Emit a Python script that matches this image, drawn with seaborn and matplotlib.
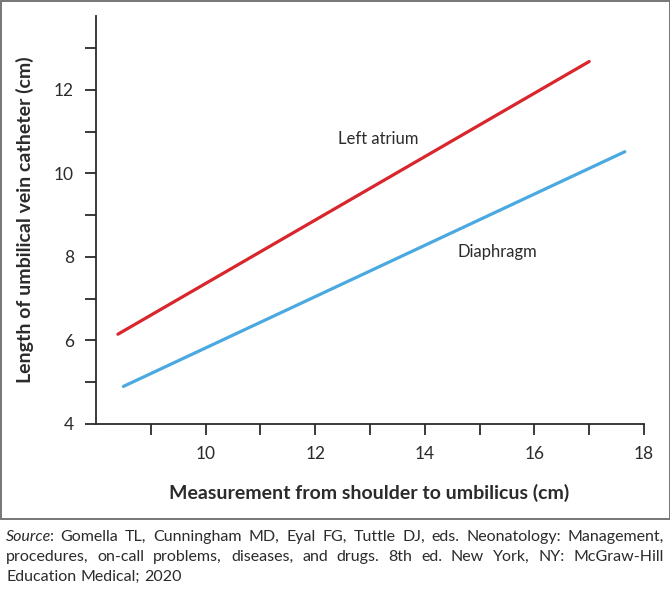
import matplotlib
matplotlib.use("Agg")
import matplotlib.pyplot as plt
from matplotlib.patches import Rectangle
import seaborn as sns
import pandas as pd

# ── data
shoulder_atrium = [8.4, 17.0]
length_atrium = [6.15, 12.68]
shoulder_diaph = [8.5, 17.65]
length_diaph = [4.9, 10.52]
series_names = ["Left atrium", "Diaphragm"]
series_colors = ["#d9262c", "#4aa9e0"]
x_ticks = list(range(9, 19))
x_labels = ["10", "12", "14", "16", "18"]
y_ticks = list(range(4, 14))
y_labels = ["4", "6", "8", "10", "12"]

source_lines = [
    [[("Source", "italic"), (":", "normal")], "Gomella", "TL,", "Cunningham", "MD,", "Eyal",
     "FG,", "Tuttle", "DJ,", "eds.", "Neonatology:", "Management,"],
    ["procedures,", "on-call", "problems,", "diseases,", "and", "drugs.", "8th", "ed.", "New",
     "York,", "NY:", "McGraw-Hill"],
    ["Education", "Medical;", "2020"],
]

df = pd.concat([
    pd.DataFrame({"x": shoulder_atrium, "y": length_atrium, "site": series_names[0]}),
    pd.DataFrame({"x": shoulder_diaph, "y": length_diaph, "site": series_names[1]}),
])

sns.set_style("ticks")
plt.rcParams["font.family"] = ["Lato", "DejaVu Sans"]
INK = "#2b2b2b"

fig = plt.figure(figsize=(6.7, 5.89), dpi=100)
ax = fig.add_axes([96 / 670, 1 - 424 / 589, (644 - 96) / 670, (424 - 16) / 589])

sns.lineplot(data=df, x="x", y="y", hue="site", palette=series_colors,
             linewidth=2.3, legend=False, ax=ax)

ax.set_xlim(8, 18)
ax.set_ylim(4, 13.77)
sns.despine(ax=ax)
for s in ("left", "bottom"):
    ax.spines[s].set_color(INK)
    ax.spines[s].set_linewidth(1.3)

ax.set_xticks(x_ticks)
ax.set_xticklabels([str(t) if str(t) in x_labels else "" for t in x_ticks])
ax.set_yticks(y_ticks)
ax.set_yticklabels([str(t) if str(t) in y_labels else "" for t in y_ticks])
ax.tick_params(direction="out", length=8, width=1.3, color=INK,
               labelcolor=INK, labelsize=12.5, pad=8)

ax.set_xlabel("Measurement from shoulder to umbilicus (cm)", fontsize=14,
              fontweight="bold", color=INK)
ax.set_ylabel("Length of umbilical vein catheter (cm)", fontsize=14,
              fontweight="bold", color=INK)
ax.xaxis.set_label_coords(0.498, -0.148)
ax.yaxis.set_label_coords(-0.113, 0.5)

ax.text(13.15, 10.83, series_names[0], fontsize=12, color=INK, ha="center", va="center")
ax.text(15.33, 8.13, series_names[1], fontsize=12, color=INK, ha="center", va="center")

# frame around the figure panel
fig.patches.append(Rectangle((0.5 / 670, 1 - 519 / 589), 669 / 670, 518.5 / 589,
                             transform=fig.transFigure, fill=False,
                             edgecolor="#6b6b6b", linewidth=1.3))

# justified source note
renderer = fig.canvas.get_renderer()
x0, x1 = 6, 664
line_y = [537, 557, 577]
FS = 11.5
for li, (words, yp) in enumerate(zip(source_lines, line_y)):
    pieces = []
    for w in words:
        parts = w if isinstance(w, list) else [(w, "normal")]
        objs = [fig.text(0, 1 - yp / 589, t, fontsize=FS, style=st, color=INK,
                         va="center", ha="left") for t, st in parts]
        pieces.append(objs)
    widths = [[o.get_window_extent(renderer).width - (1.5 if o.get_style() == "italic" else 0)
               for o in objs] for objs in pieces]
    total = sum(sum(w) for w in widths)
    if li < len(source_lines) - 1:
        gap = (x1 - x0 - total) / (len(pieces) - 1)
    else:
        gap = 4.5
    x = x0
    for objs, ws in zip(pieces, widths):
        for o, w in zip(objs, ws):
            o.set_x(x / 670)
            x += w
        x += gap

fig.savefig("out.png", dpi=100)
